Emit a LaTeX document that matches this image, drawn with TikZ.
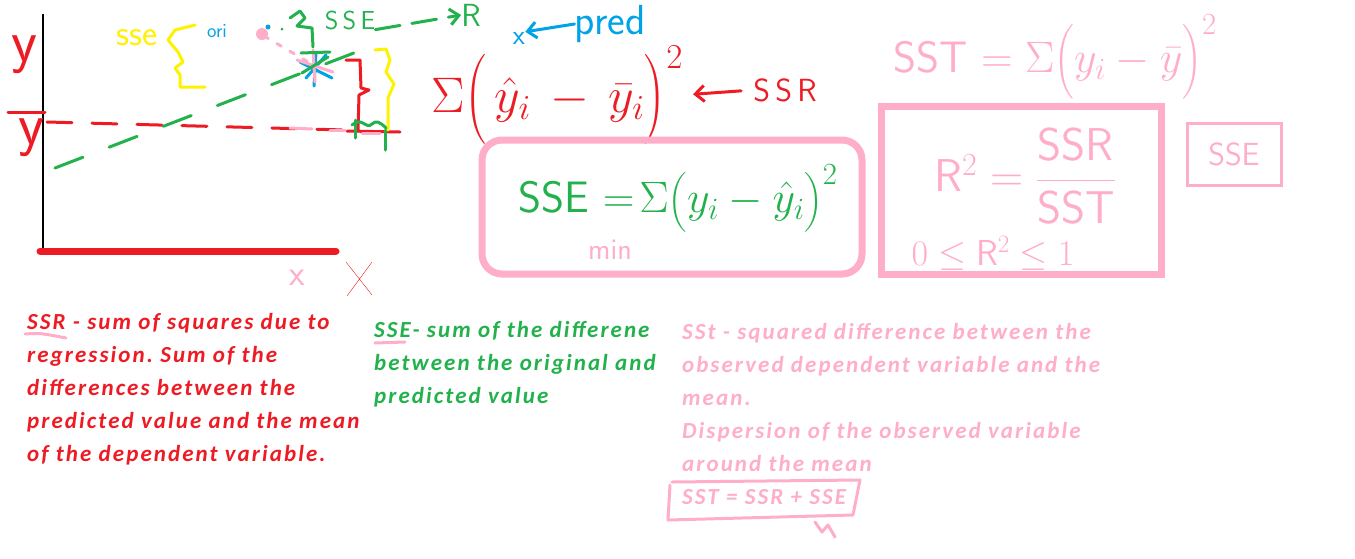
\RequirePackage{fix-cm}
\documentclass[tikz,border=0pt]{standalone}
\usepackage{amsmath}
\usepackage{fontspec}
\setmainfont{Carlito}
\usepackage{tikz}
\usetikzlibrary{arrows.meta, positioning}
\definecolor{pred}{RGB}{237,28,36}
\definecolor{pgreen}{RGB}{34,177,76}
\definecolor{pyellow}{RGB}{255,242,0}
\definecolor{pblue}{RGB}{0,162,232}
\definecolor{ppink}{RGB}{255,174,201}
\tikzset{
  hand/.style={inner sep=0pt, font=\sffamily\fontsize{#1}{#1}\selectfont},
  hand/.default=30,
  pen/.style={line width=3pt, line cap=round, line join=round},
  barb/.style={pen, -{Straight Barb[length=9pt, width=16pt]}},
  note/.style={inner sep=0pt, anchor=north west, align=left, font=\addfontfeature{LetterSpace=9}\bfseries\itshape\fontsize{23}{33}\selectfont\frenchspacing}
}

\begin{document}
\begin{tikzpicture}[x=1pt, y=-1pt]
  \fill[white] (0,0) rectangle (1355,558);
  \useasboundingbox (0,0) rectangle (1355,558);

  % Axes
  \draw[line width=2pt] (43,14) -- (43,250);
  \draw[pred, line width=7pt, line cap=round] (40,251) -- (336,251);
  \node[hand=60, text=pred] (ylab) at (24,55) {y};
  \draw[pred, pen] (8,112) -- (45,112);
  \node[hand=60, text=pred] (ybar) at (31,138) {y};

  % Mean line and regression line
  \draw[pred, pen, dash pattern=on 25pt off 20pt] (47,122) -- (345,130);
  \draw[pred, pen] (347,131) -- (400,132);
  \draw[ppink, pen] (290,128) -- (312,129);
  \draw[ppink, pen] (330,130) -- (345,130);
  \draw[ppink, pen] (362,133) -- (380,133);
  \draw[pgreen, pen, dash pattern=on 30pt off 28pt] (55,168) -- (372,46);

  % Braces at the point
  \draw[pred, pen] (346,60) -- (360,60) -- (361,88) -- (369,90) -- (359,95) -- (358,131);
  \draw[pyellow, pen] (375,50) -- (386,49) -- (390,60) -- (386,72) -- (394,84) -- (388,98) -- (388,130);
  \draw[pgreen, pen] (355,120) -- (355,138);
  \draw[pgreen, pen] (385,130) -- (385,150);
  \draw[pgreen, pen] (352,125) .. controls (362,116) and (366,130) .. (372,124) .. controls (376,120) and (380,122) .. (386,128);

  % Observed point
  \node[hand=36, text=pyellow] (sselab) at (137,38) {sse};
  \draw[pyellow, pen] (195,25) -- (175,30) -- (168,40) -- (178,52) -- (183,62) -- (175,68) -- (180,75) -- (180,87) -- (205,87);
  \node[hand=20, text=pblue] (orilab) at (217,31) {ori};
  \coordinate (obs) at (264,36);
  \fill[ppink] (262,34) circle (6pt);
  \fill[pblue] (268,27) circle (2.5pt);
  \fill[pgreen] (282,29) circle (1.5pt);
  \coordinate (star) at (315,66);
  \draw[ppink, pen, dash pattern=on 5pt off 10pt] (obs) -- (star);
  \draw[pblue, pen] (300,62) -- (332,78) (316,52) -- (314,86) (306,78) -- (326,55);
  \draw[ppink, pen] (297,60) -- (333,72) (313,50) -- (315,82);
  \draw[pgreen, pen] (302,73) -- (328,57) (301,53) -- (330,52);

  % SSE -> R
  \draw[pgreen, pen] (290,18) -- (300,11) -- (305,18) -- (297,26) -- (312,28) -- (313,47);
  \node[hand=26, text=pgreen] (ssetop) at (350,20) {S\,S\,E};
  \node[hand=32, text=pgreen] (rtop) at (471,15) {R};
  \draw[pgreen, barb, dash pattern=on 25pt off 12pt] (ssetop.south east) -- (rtop.west);

  % Predicted value
  \node[hand=28, text=pblue] (xpred) at (519,38) {x};
  \node[hand=42, text=pblue] (predlab) at (610,24) {pred};
  \draw[pblue, barb] (predlab.west) -- (xpred.north east);

  % SSR formula
  \node[inner sep=0pt, text=pred, font=\fontsize{50}{50}\selectfont] (ssrf) at (557,95) {$\Sigma\Bigl(\,\hat{y}_i\, - \,\bar{y}_i\Bigr)^{2}$};
  \node[hand=32, text=pred] (ssrlab) at (785,90) {S\,S\,R};
  \draw[pred, barb, shorten <=12pt, shorten >=10pt] (ssrlab.west) -- (ssrf.east);

  % SSE box
  \node[draw=ppink, line width=7pt, rounded corners=20pt, minimum width=380pt, minimum height=134pt] (ssebox) at (672,207) {};
  \node[text=pgreen, inner sep=0pt, font=\sffamily\fontsize{44}{44}\selectfont] (ssef) at (678,198) {SSE $=\!\Sigma\bigl(y_i - \hat{y}_i\bigr)^{2}$};
  \node[hand=30, text=ppink] (minlab) at (610,250) {min};

  % SST and R^2
  \node[text=ppink, inner sep=0pt, font=\sffamily\fontsize{44}{44}\selectfont] (sstf) at (1055,58) {SST $=\Sigma\Bigl(y_i - \bar{y}\Bigr)^{2}$};
  \node[draw=ppink, line width=7pt, minimum width=280pt, minimum height=168pt] (rbox) at (1021.5,190) {};
  \node[text=ppink, inner sep=0pt, font=\fontsize{46}{46}\selectfont] (rsq) at (1025,176) {$\mathsf{R}^2 = \dfrac{\mathsf{SSR}}{\mathsf{SST}}$};
  \node[text=ppink, inner sep=0pt, font=\fontsize{36}{36}\selectfont] (rrange) at (993,253) {$0 \le \mathsf{R}^2 \le 1$};
  \node[draw=ppink, line width=3pt, minimum width=94pt, minimum height=62pt, text=ppink, font=\sffamily\fontsize{32}{32}\selectfont] (ssesmall) at (1234,154) {SSE};

  % x labels
  \node[hand=36, text=ppink] (xpink) at (297,278) {x};
  \draw[pred, thin] (346,262) -- (372,295) (372,262) -- (347,296);

  % Notes
  \node[note, text=pred] (ssrnote) at (27,313) {SSR - sum of squares due to\\regression. Sum of the\\differences between the\\predicted value and the mean\\of the dependent variable.};
  \draw[ppink, pen] (25,334) .. controls (40,333) .. (66,338);
  \node[note, text=pgreen] (ssenote) at (374,321) {SSE- sum of the differene\\between the original and\\predicted value};
  \draw[ppink, pen] (375,343) -- (405,342);
  \node[note, text=ppink] (sstnote) at (682,323) {SSt - squared difference between the\\observed dependent variable and the\\mean.\\Dispersion of the observed variable\\around the mean\\SST = SSR + SSE};
  \draw[ppink, pen] (670,485) -- (668,520) -- (853,515) -- (860,480) -- (672,482);
  \draw[ppink, pen] (815,522) -- (822,532) -- (828,525) -- (835,537);
\end{tikzpicture}
\end{document}
